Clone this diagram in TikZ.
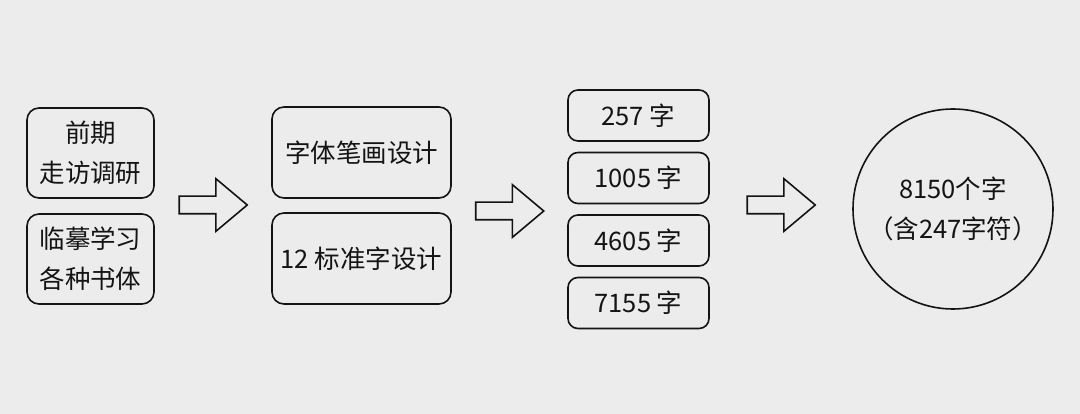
\documentclass[tikz,border=0pt]{standalone}
\usepackage{fontspec}
\setmainfont{Noto Sans CJK SC}
\usepackage{xcolor}
\usetikzlibrary{positioning,shapes.arrows}
\definecolor{bggray}{RGB}{236,236,236}
\definecolor{ink}{RGB}{20,20,20}

\begin{document}
\begin{tikzpicture}[x=1pt, y=-1pt,
  box/.style={draw=ink, text=ink, rounded corners=12pt, line width=1.6pt,
              align=center, inner sep=0pt, outer sep=0pt, fill=bggray,
              font=\fontsize{25.5}{40}\selectfont},
  stage/.style={box, minimum width=127pt, minimum height=90pt},
  design/.style={box, minimum width=179pt, minimum height=91pt},
  count/.style={box, rounded corners=10pt, minimum width=141pt, minimum height=51pt},
  total/.style={box, circle, minimum size=200pt},
  bigarr/.style={single arrow, draw=ink, fill=bggray, line width=1.6pt,
                 inner xsep=0pt, inner ysep=8pt, minimum height=68pt, minimum width=51pt,
                 single arrow head extend=17.5pt, single arrow tip angle=80}]
\useasboundingbox[fill=bggray] (0,0) rectangle (1080,414);
\node[stage] (visit) at (90.5,153) {前期\\走访调研};
\node[stage, below=16pt of visit] (copy) {临摹学习\\各种书体};
\node[design] (stroke) at (361.5,152.5) {字体笔画设计};
\node[design, below=15pt of stroke] (std) {12 标准字设计};
\node[count] (c1) at (638.5,115.5) {257 字};
\node[count, below=11.5pt of c1] (c2) {1005 字};
\node[count, below=11.5pt of c2] (c3) {4605 字};
\node[count, below=11.5pt of c3] (c4) {7155 字};
\node[total] (all) at (953,209) {8150个字\\（含247字符）};
\node[bigarr] (ar1) at (208,205) {};
\node[bigarr] (ar2) at (504.5,211) {};
\node[bigarr] (ar3) at (776,205) {};
\end{tikzpicture}
\end{document}
